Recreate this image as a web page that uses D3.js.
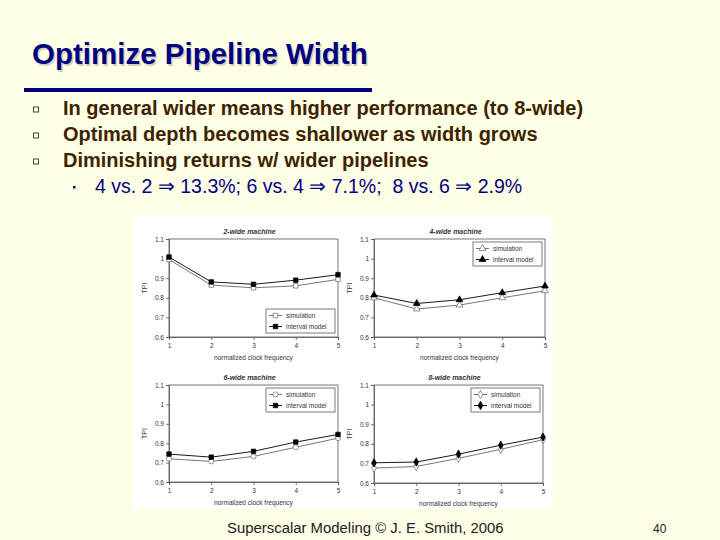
<!DOCTYPE html>
<html>
<head>
<meta charset="utf-8">
<script src="https://cdn.jsdelivr.net/npm/d3@7"></script>
<style>
  html, body { margin: 0; padding: 0; background: #FFFFE6; }
  svg { display: block; font-family: 'Liberation Sans', Arial, sans-serif; }
</style>
</head>
<body>
<div id="slide"></div>
<script>
// data
const freqs = [1, 2, 3, 4, 5]
const yTicks = [0.6, 0.7, 0.8, 0.9, 1.0, 1.1]
const chartTitles = ['2-wide machine', '4-wide machine', '6-wide machine', '8-wide machine']
const seriesNames = ['simulation', 'interval model']
const sim2 = [0.995, 0.865, 0.851, 0.861, 0.894]
const model2 = [1.008, 0.881, 0.869, 0.890, 0.918]
const sim4 = [0.800, 0.743, 0.763, 0.800, 0.836]
const model4 = [0.814, 0.771, 0.790, 0.826, 0.860]
const sim6 = [0.720, 0.706, 0.732, 0.779, 0.826]
const model6 = [0.744, 0.728, 0.758, 0.806, 0.845]
const sim8 = [0.676, 0.684, 0.726, 0.772, 0.821]
const model8 = [0.703, 0.707, 0.747, 0.793, 0.834]
const bullets = [
  'In general wider means higher performance (to 8-wide)',
  'Optimal depth becomes shallower as width grows',
  'Diminishing returns w/ wider pipelines'
]
const subBullet = '4 vs. 2 \u21D2 13.3%; 6 vs. 4 \u21D2 7.1%;  8 vs. 6 \u21D2 2.9%'

const width = 720
const height = 540

const svg = d3.select('#slide')
  .append('svg')
  .attr('width', width)
  .attr('height', height)

svg.append('rect')
  .attr('width', width)
  .attr('height', height)
  .attr('fill', '#FFFFE6')

// title + underline
svg.append('text')
  .attr('x', 33.5)
  .attr('y', 65.5)
  .attr('fill', '#d2d0b8')
  .attr('font-size', 29.5)
  .attr('font-weight', 'bold')
  .text('Optimize Pipeline Width')
svg.append('text')
  .attr('x', 32)
  .attr('y', 64)
  .attr('fill', '#000080')
  .attr('font-size', 29.5)
  .attr('font-weight', 'bold')
  .text('Optimize Pipeline Width')
svg.append('rect')
  .attr('x', 24)
  .attr('y', 88)
  .attr('width', 348)
  .attr('height', 4)
  .attr('fill', '#000080')

// bullets
bullets.forEach((t, i) => {
  const y = 115 + i * 26
  svg.append('rect')
    .attr('x', 33.5)
    .attr('y', y - 8)
    .attr('width', 5)
    .attr('height', 5)
    .attr('fill', 'none')
    .attr('stroke', '#333')
    .attr('stroke-width', 0.9)
  svg.append('text')
    .attr('x', 63)
    .attr('y', y)
    .attr('fill', '#3D2300')
    .attr('font-size', 20)
    .attr('font-weight', 'bold')
    .text(t)
})
svg.append('rect')
  .attr('x', 73)
  .attr('y', 186)
  .attr('width', 2.5)
  .attr('height', 2.5)
  .attr('fill', '#000080')
svg.append('text')
  .attr('x', 95)
  .attr('y', 193)
  .attr('fill', '#000080')
  .attr('font-size', 19.5)
  .style('white-space', 'pre')
  .text(subBullet)

// footer
svg.append('text')
  .attr('x', 227)
  .attr('y', 533)
  .attr('fill', '#222')
  .attr('font-size', 14.9)
  .text('Superscalar Modeling \u00A9 J. E. Smith, 2006')
svg.append('text')
  .attr('x', 653)
  .attr('y', 533)
  .attr('fill', '#222')
  .attr('font-size', 12)
  .text('40')

// white picture panel
svg.append('rect')
  .attr('x', 133)
  .attr('y', 216)
  .attr('width', 419)
  .attr('height', 293)
  .attr('fill', '#fff')

const panels = [
  { title: chartTitles[0], sim: sim2, model: model2, simShape: d3.symbolSquare, modelShape: d3.symbolSquare, box: [169, 239, 338, 337], legend: 'bottom' },
  { title: chartTitles[1], sim: sim4, model: model4, simShape: d3.symbolTriangle, modelShape: d3.symbolTriangle, box: [374, 239, 545, 337], legend: 'top' },
  { title: chartTitles[2], sim: sim6, model: model6, simShape: d3.symbolCircle, modelShape: d3.symbolSquare, box: [169, 385, 338, 482], legend: 'top' },
  { title: chartTitles[3], sim: sim8, model: model8, simShape: d3.symbolDiamond, modelShape: d3.symbolDiamond, box: [374, 385, 543, 483], legend: 'top' }
]

const textColor = '#333'
const fmt = d3.format('~g')

panels.forEach(p => {
  const [x0, y0, x1, y1] = p.box
  const x = d3.scaleLinear().domain([1, 5]).range([x0, x1])
  const y = d3.scaleLinear().domain([0.6, 1.1]).range([y1, y0])
  const g = svg.append('g')

  // plot area frame
  g.append('rect')
    .attr('x', x0)
    .attr('y', y0)
    .attr('width', x1 - x0)
    .attr('height', y1 - y0)
    .attr('fill', 'none')
    .attr('stroke', '#555')
    .attr('stroke-width', 0.8)

  const yAxis = g.append('g')
    .attr('transform', `translate(${x0},0)`)
    .call(d3.axisLeft(y).tickValues(yTicks).tickSize(3).tickPadding(2).tickFormat(fmt))
  const xAxis = g.append('g')
    .attr('transform', `translate(0,${y1})`)
    .call(d3.axisBottom(x).tickValues(freqs).tickSize(3).tickPadding(3).tickFormat(d3.format('d')))
  ;[yAxis, xAxis].forEach(a => {
    a.select('.domain').attr('stroke', '#555').attr('stroke-width', 0.8)
    a.selectAll('.tick line').attr('stroke', '#555').attr('stroke-width', 0.8)
    a.selectAll('.tick text')
      .attr('fill', textColor)
      .attr('font-size', 6.5)
      .attr('font-family', "'Liberation Sans', Arial, sans-serif")
  })

  g.append('text')
    .attr('x', (x0 + x1) / 2 - 4)
    .attr('y', y0 - 5)
    .attr('text-anchor', 'middle')
    .attr('font-size', 7)
    .attr('font-weight', 'bold')
    .attr('font-style', 'italic')
    .attr('fill', textColor)
    .text(p.title)

  g.append('text')
    .attr('x', (x0 + x1) / 2)
    .attr('y', y1 + 23)
    .attr('text-anchor', 'middle')
    .attr('font-size', 6.5)
    .attr('fill', textColor)
    .text('normalized clock frequency')

  g.append('text')
    .attr('transform', `translate(${x0 - 22},${(y0 + y1) / 2}) rotate(-90)`)
    .attr('text-anchor', 'middle')
    .attr('font-size', 7)
    .attr('fill', textColor)
    .text('TPI')

  const line = d3.line().x((d, i) => x(freqs[i])).y(d => y(d))
  const series = [
    { vals: p.sim, shape: p.simShape, stroke: '#666', fill: '#fff', name: seriesNames[0] },
    { vals: p.model, shape: p.modelShape, stroke: '#000', fill: '#000', name: seriesNames[1] }
  ]
  series.forEach(s => {
    g.append('path')
      .datum(s.vals)
      .attr('d', line)
      .attr('fill', 'none')
      .attr('stroke', s.stroke)
      .attr('stroke-width', 0.9)
    g.selectAll(null)
      .data(s.vals)
      .enter()
      .append('path')
      .attr('transform', (d, i) => `translate(${x(freqs[i])},${y(d)})`)
      .attr('d', d3.symbol().type(s.shape).size(20))
      .attr('fill', s.fill)
      .attr('stroke', s.stroke)
      .attr('stroke-width', 0.7)
  })

  // legend
  const lw = 69
  const lh = 24
  const lx = x1 - 3 - lw
  const ly = p.legend === 'top' ? y0 + 3 : y1 - 4 - lh
  const lg = g.append('g').attr('transform', `translate(${lx},${ly})`)
  lg.append('rect')
    .attr('width', lw)
    .attr('height', lh)
    .attr('fill', '#fff')
    .attr('stroke', '#444')
    .attr('stroke-width', 0.7)
  series.forEach((s, i) => {
    const yy = 6.5 + i * 11
    lg.append('line')
      .attr('x1', 3)
      .attr('x2', 16)
      .attr('y1', yy)
      .attr('y2', yy)
      .attr('stroke', s.stroke)
      .attr('stroke-width', 0.9)
    lg.append('path')
      .attr('transform', `translate(9.5,${yy})`)
      .attr('d', d3.symbol().type(s.shape).size(20))
      .attr('fill', s.fill)
      .attr('stroke', s.stroke)
      .attr('stroke-width', 0.7)
    lg.append('text')
      .attr('x', 20)
      .attr('y', yy + 2.3)
      .attr('font-size', 6.5)
      .attr('fill', textColor)
      .text(s.name)
  })
})
</script>
</body>
</html>
